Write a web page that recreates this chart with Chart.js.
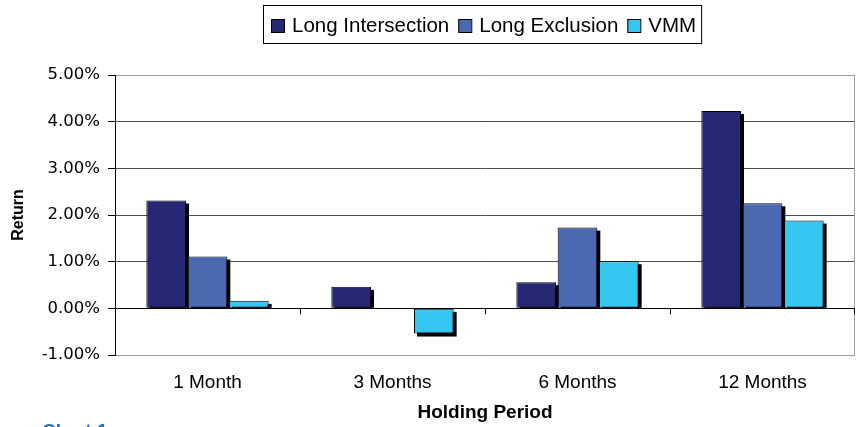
<!DOCTYPE html>
<html>
<head>
<meta charset="utf-8">
<script src="https://cdn.jsdelivr.net/npm/chart.js@4.4.0/dist/chart.umd.min.js"></script>
<style>
  body { margin: 0; background: #fff; }
  #wrap { position: relative; width: 860px; height: 427px; overflow: hidden; }
  #note { position: absolute; left: 42px; top: 421px; font: bold 19px "Liberation Sans", Arial, sans-serif; line-height: 19px; color: #1a6fc4; }
</style>
</head>
<body>
<div id="wrap">
  <canvas id="returnChart" width="860" height="427"></canvas>
  <div id="note">Chart 1</div>
</div>
<script>
// Chart data (returns in %)
const periods = ["1 Month", "3 Months", "6 Months", "12 Months"];
const seriesNames = ["Long Intersection", "Long Exclusion", "VMM"];
const longIntersection = [2.31, 0.46, 0.56, 4.23];
const longExclusion = [1.11, 0.01, 1.73, 2.25];
const vmm = [0.16, -0.54, 1.01, 1.88];
const seriesColors = ["#262873", "#4a69b0", "#35c6f1"];

const sansFont = '"Liberation Sans", Arial, sans-serif';
const dejaFont = '"DejaVu Sans", Verdana, sans-serif';

// Excel-like extras: bar shadows, boxed legend, zero-line ticks, right border
const excelStyle = {
  id: "excelStyle",
  beforeDatasetsDraw(chart) {
    const ctx = chart.ctx;
    const area = chart.chartArea;
    ctx.save();
    ctx.beginPath();
    ctx.rect(area.left, area.top, area.right - area.left + 6, area.bottom - area.top);
    ctx.clip();
    ctx.fillStyle = "#000";
    chart.data.datasets.forEach((ds, i) => {
      chart.getDatasetMeta(i).data.forEach((bar) => {
        const w = bar.width;
        const left = bar.x - w / 2;
        if (bar.y <= bar.base) {
          const h = bar.base - bar.y - 3;
          if (h > 0) ctx.fillRect(left + 3, bar.y + 3, w, h);
        } else {
          ctx.fillRect(left + 3, bar.base + 3, w, bar.y - bar.base);
        }
      });
    });
    ctx.restore();
  },
  afterDatasetsDraw(chart) {
    const ctx = chart.ctx;
    const area = chart.chartArea;
    const x = chart.scales.x;
    const y0 = chart.scales.y.getPixelForValue(0);
    ctx.save();
    // right border of plot area
    ctx.strokeStyle = "#a0a0a0";
    ctx.lineWidth = 1;
    ctx.beginPath();
    ctx.moveTo(area.right - 0.5, area.top);
    ctx.lineTo(area.right - 0.5, area.bottom);
    ctx.stroke();
    // category boundary ticks on the zero line
    ctx.strokeStyle = "#000";
    ctx.beginPath();
    ctx.moveTo(area.left, Math.round(y0) + 0.5);
    ctx.lineTo(area.right, Math.round(y0) + 0.5);
    for (let i = 0; i < periods.length - 1; i++) {
      const bx = Math.round((x.getPixelForValue(i) + x.getPixelForValue(i + 1)) / 2) + 0.5;
      ctx.moveTo(bx, y0);
      ctx.lineTo(bx, y0 + 6);
    }
    ctx.moveTo(area.right - 0.5, y0);
    ctx.lineTo(area.right - 0.5, y0 + 6);
    ctx.stroke();
    ctx.restore();
  },
  afterDraw(chart) {
    // legend box
    const ctx = chart.ctx;
    ctx.save();
    ctx.font = "20.5px " + sansFont;
    ctx.textBaseline = "middle";
    const cy = 25.5;
    const widths = seriesNames.map((n) => ctx.measureText(n).width);
    const total = widths.reduce((a, b) => a + b, 0) + seriesNames.length * (14 + 7) + (seriesNames.length - 1) * 9;
    const boxLeft = 263;
    const boxRight = boxLeft + total + 13;
    ctx.strokeStyle = "#000";
    ctx.lineWidth = 1;
    ctx.strokeRect(boxLeft + 0.5, 5.5, boxRight - boxLeft, 38);
    let cx = boxLeft + 8;
    seriesNames.forEach((name, i) => {
      ctx.fillStyle = seriesColors[i];
      ctx.fillRect(cx, cy - 6.5, 13, 13);
      ctx.strokeRect(cx + 0.5, cy - 6.5 + 0.5, 13, 13);
      ctx.fillStyle = "#000";
      ctx.fillText(name, cx + 14 + 7, cy + 1);
      cx += 14 + 7 + widths[i] + 9;
    });
    ctx.restore();
  },
};

function gridColor(ctx) {
  const v = ctx.tick ? ctx.tick.value : null;
  if (v === 0) return "#000";
  if (v === 5 || v === -1) return "#a0a0a0";
  return "#4d4d4d";
}

const chartCtx = document.getElementById("returnChart");
new Chart(chartCtx, {
  type: "bar",
  data: {
    labels: periods,
    datasets: [
      { label: seriesNames[0], data: longIntersection, backgroundColor: seriesColors[0] },
      { label: seriesNames[1], data: longExclusion, backgroundColor: seriesColors[1] },
      { label: seriesNames[2], data: vmm, backgroundColor: seriesColors[2] },
    ],
  },
  options: {
    responsive: false,
    animation: false,
    events: [],
    layout: { padding: { top: 75, right: 5, left: 0, bottom: 0 } },
    datasets: {
      bar: {
        borderColor: "#000",
        borderWidth: 1,
        borderSkipped: false,
        categoryPercentage: 0.67,
        barPercentage: 0.96,
      },
    },
    scales: {
      x: {
        grid: { display: false },
        border: { display: false },
        ticks: { color: "#000", font: { family: sansFont, size: 19 }, padding: 8 },
        title: {
          display: true,
          text: "Holding Period",
          color: "#000",
          font: { family: sansFont, size: 19, weight: "bold" },
          padding: { top: 0, bottom: 3 },
        },
        afterFit(scale) { scale.height = 72; },
      },
      y: {
        min: -1,
        max: 5,
        ticks: {
          stepSize: 1,
          color: "#000",
          font: { family: dejaFont, size: 16.5 },
          padding: 8,
          callback: (v) => v.toFixed(2) + "%",
        },
        grid: { color: gridColor, tickColor: "#000", tickLength: 7, lineWidth: 1 },
        border: { color: "#000" },
        title: {
          display: true,
          text: "Return",
          color: "#000",
          font: { family: sansFont, size: 16, weight: "bold" },
          padding: { top: 9, bottom: 0 },
        },
        afterFit(scale) { scale.width = 115; },
      },
    },
    plugins: {
      legend: { display: false },
      tooltip: { enabled: false },
    },
  },
  plugins: [excelStyle],
});
</script>
</body>
</html>
